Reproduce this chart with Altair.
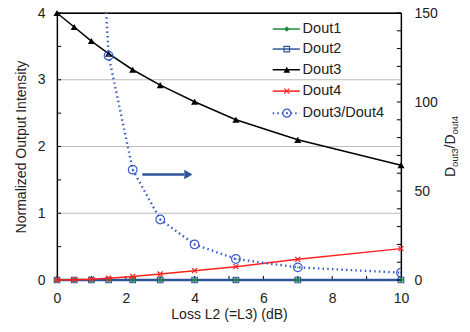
import altair as alt
import pandas as pd

loss = [0, 0.5, 1, 1.5, 2.2, 3, 4, 5.2, 7, 10]
dout1 = [0, 0, 0, 0, 0, 0, 0, 0, 0, 0]
dout2 = [0, 0, 0, 0, 0, 0, 0, 0, 0, 0]
dout3 = [4.0, 3.79, 3.58, 3.39, 3.15, 2.92, 2.67, 2.40, 2.10, 1.72]
dout4 = [0.0, 0.005, 0.012, 0.027, 0.054, 0.09, 0.14, 0.20, 0.31, 0.47]
ratio_x = [0.5, 1, 1.5, 2.2, 3, 4, 5.2, 7, 10]
ratio = [950, 300, 126, 62, 34, 20, 11.8, 7.1, 4.1]

legend_names = ["Dout1", "Dout2", "Dout3", "Dout4", "Dout3/Dout4"]
legend_y = [3.76, 3.46, 3.15, 2.83, 2.50]
grid_vals = [1, 2, 3]

# right-axis title pieces: text, font size, extra baseline shift
rtitle_parts = [("D", 14, 0), ("out3", 9.5, 3), ("/", 14, 0), ("D", 14, 0), ("out4", 9.5, 3)]

FONT = "Liberation Sans"
GREEN = "#1f8a3c"
BLUE = "#2f5597"
BLACK = "#000000"
RED = "#ff2020"
DOTBLUE = "#3a5cc8"
TXT = "#222222"

xs = alt.Scale(domain=[0, 10], nice=False, zero=False)
ys = alt.Scale(domain=[0, 4], nice=False)
rs = alt.Scale(domain=[0, 150], nice=False)

df = pd.DataFrame({"x": loss, "d1": dout1, "d2": dout2, "d3": dout3, "d4": dout4})
rdf = pd.DataFrame({"x": ratio_x, "r": ratio})

xaxis = alt.Axis(values=[0, 2, 4, 6, 8, 10], tickSize=0, labelFontSize=14, labelFont=FONT,
                 labelColor=TXT, title="Loss L2 (=L3) (dB)", titleFont=FONT, titleFontSize=14,
                 titleFontWeight="normal", titleColor=TXT, labelPadding=11, titlePadding=2,
                 labelFlush=False, domainColor="black", domainWidth=1.2, grid=False)
yaxis = alt.Axis(values=[0, 1, 2, 3, 4], tickSize=0, labelFontSize=14, labelFont=FONT,
                 labelColor=TXT, title="Normalized Output Intensity", titleFont=FONT,
                 titleFontSize=14, titleFontWeight="normal", titleColor=TXT, labelPadding=12,
                 titlePadding=9, labelFlush=False, domainColor="black", domainWidth=1.2,
                 grid=False)
raxis = alt.Axis(orient="right", values=[0, 50, 100, 150], tickSize=0, labelFontSize=14,
                 labelFont=FONT, labelColor=TXT, title=None, labelPadding=13,
                 labelFlush=False, domainColor="black", domainWidth=1.2, grid=False)


def X(f):
    return alt.X(f + ":Q", scale=xs, axis=xaxis)


def Y(f):
    return alt.Y(f + ":Q", scale=ys, axis=yaxis)


def R(f):
    return alt.Y(f + ":Q", scale=rs, axis=raxis)


base = alt.Chart(df)

grid = alt.Chart(pd.DataFrame({"g": grid_vals, "a": [0] * 3, "b": [10] * 3})).mark_rule(
    color="#bdbdbd", strokeWidth=1.2).encode(y=Y("g"), x=X("a"), x2="b:Q")
top = alt.Chart(pd.DataFrame({"g": [4], "a": [0], "b": [10]})).mark_rule(
    color="black", strokeWidth=1.2).encode(y=Y("g"), x=X("a"), x2="b:Q")

xt = pd.DataFrame({"t": list(range(0, 11)), "a": [0] * 11, "b": [0.06] * 11})
xticks = alt.Chart(xt).mark_rule(color="black").encode(x=X("t"), y=Y("a"), y2="b:Q")
ytv = [0, 0.5, 1, 1.5, 2, 2.5, 3, 3.5, 4]
yt = pd.DataFrame({"t": ytv, "a": [0] * len(ytv), "b": [0.12] * len(ytv)})
yticks = alt.Chart(yt).mark_rule(color="black").encode(y=Y("t"), x=X("a"), x2="b:Q")

XSHAPE = "M-1,-1L1,1M-1,1L1,-1"


def series(col, color, shape, filled, size, sw=1.5):
    line = base.mark_line(color=color, strokeWidth=sw).encode(x=X("x"), y=Y(col))
    pt = base.mark_point(color=color, shape=shape, filled=filled, size=size, opacity=1,
                         strokeWidth=1.2).encode(x=X("x"), y=Y(col))
    return line, pt


l1, p1 = series("d1", GREEN, "diamond", True, 30)
l2, p2 = series("d2", BLUE, "square", False, 30, sw=2.5)
l3, p3 = series("d3", BLACK, "triangle-up", True, 50)
l4, p4 = series("d4", RED, XSHAPE, False, 25)

# arrow
adf = pd.DataFrame({"x": [2.48], "x2": [3.7], "y": [1.58]})
arrow_line = alt.Chart(adf).mark_rule(color=BLUE, strokeWidth=2.5).encode(
    x=X("x"), x2="x2:Q", y=Y("y"))
arrow_head = alt.Chart(pd.DataFrame({"x": [3.82], "y": [1.58]})).mark_point(
    shape="triangle-right", color=BLUE, filled=True, size=90, opacity=1).encode(
    x=X("x"), y=Y("y"))

# legend
leg = pd.DataFrame({"name": legend_names, "y": legend_y, "x1": [6.27] * 5, "x2": [7.06] * 5,
                    "xm": [6.68] * 5, "xt": [7.14] * 5})
legs = []
styles = [(GREEN, "diamond", True, 30, 1.5, None), (BLUE, "square", False, 30, 1.5, None),
          (BLACK, "triangle-up", True, 45, 1.5, None), (RED, XSHAPE, False, 25, 1.5, None),
          (DOTBLUE, "circle", False, 64, 2, [1.5, 3])]
for i, (c, s, f, sz, sw, dash) in enumerate(styles):
    sub = leg.iloc[[i]]
    kw = dict(color=c, strokeWidth=sw)
    if dash:
        kw["strokeDash"] = dash
    legs.append(alt.Chart(sub).mark_rule(**kw).encode(x=X("x1"), x2="x2:Q", y=Y("y")))
    legs.append(alt.Chart(sub).mark_point(color=c, shape=s, filled=f, size=sz, opacity=1,
                                          strokeWidth=1.2).encode(x=X("xm"), y=Y("y")))
    if i == 4:
        legs.append(alt.Chart(sub).mark_point(color=c, shape="circle", filled=True, size=3,
                                              opacity=1).encode(x=X("xm"), y=Y("y")))
legs.append(alt.Chart(leg).mark_text(align="left", baseline="middle", font=FONT, fontSize=14.5,
                                     color=TXT).encode(x=X("xt"), y=Y("y"), text="name:N"))

left = alt.layer(grid, top, xticks, yticks, l1, l2, p2, p1, l3, p3, l4, p4,
                 arrow_line, arrow_head, *legs)

rb = alt.Chart(rdf)
rline = rb.mark_line(color=DOTBLUE, strokeWidth=2.4, strokeDash=[1.5, 3.2], clip=True).encode(
    x=X("x"), y=R("r"))
rpt = rb.mark_point(color=DOTBLUE, shape="circle", filled=False, size=75, opacity=1,
                    strokeWidth=1.2, clip=True).encode(x=X("x"), y=R("r"))
rdot = rb.mark_point(color=DOTBLUE, shape="circle", filled=True, size=3, opacity=1,
                     clip=True).encode(x=X("x"), y=R("r"))
rtv = list(range(0, 151, 10))
rt = pd.DataFrame({"t": rtv, "a": [10] * len(rtv), "b": [9.88] * len(rtv)})
rticks = alt.Chart(rt).mark_rule(color="black").encode(y=R("t"), x=X("a"), x2="b:Q")

# right title built from pieces (rotated, reading bottom to top)
char_w = {"D": 0.722, "o": 0.556, "u": 0.556, "t": 0.278, "3": 0.556, "4": 0.556, "/": 0.278}
rt_rows = []
pos = 177.0 - 13.0  # bottom of title in pixels, relative to plot top (13)
for txt, fs, shift in rtitle_parts:
    rt_rows.append({"t": txt, "fs": fs, "py": pos, "px": 344 + 54 + shift})
    pos -= sum(char_w[c] for c in txt) * fs
rtitle = []
for row in rt_rows:
    rtitle.append(alt.Chart(pd.DataFrame([row])).mark_text(
        angle=270, align="left", baseline="alphabetic", font=FONT, fontSize=row["fs"],
        color=TXT).encode(x=alt.value(row["px"]), y=alt.value(row["py"]), text="t:N"))

right = alt.layer(rticks, rline, rpt, rdot, *rtitle)

chart = alt.layer(left, right).resolve_scale(y="independent").properties(
    width=344, height=267,
    autosize=alt.AutoSizeParams(type="none"),
    padding={"left": 57, "top": 13, "right": 69, "bottom": 52},
    background="white",
).configure_view(stroke="black", strokeWidth=1.2)

chart.save("out.html", embed_options={"renderer": "svg", "actions": False})
